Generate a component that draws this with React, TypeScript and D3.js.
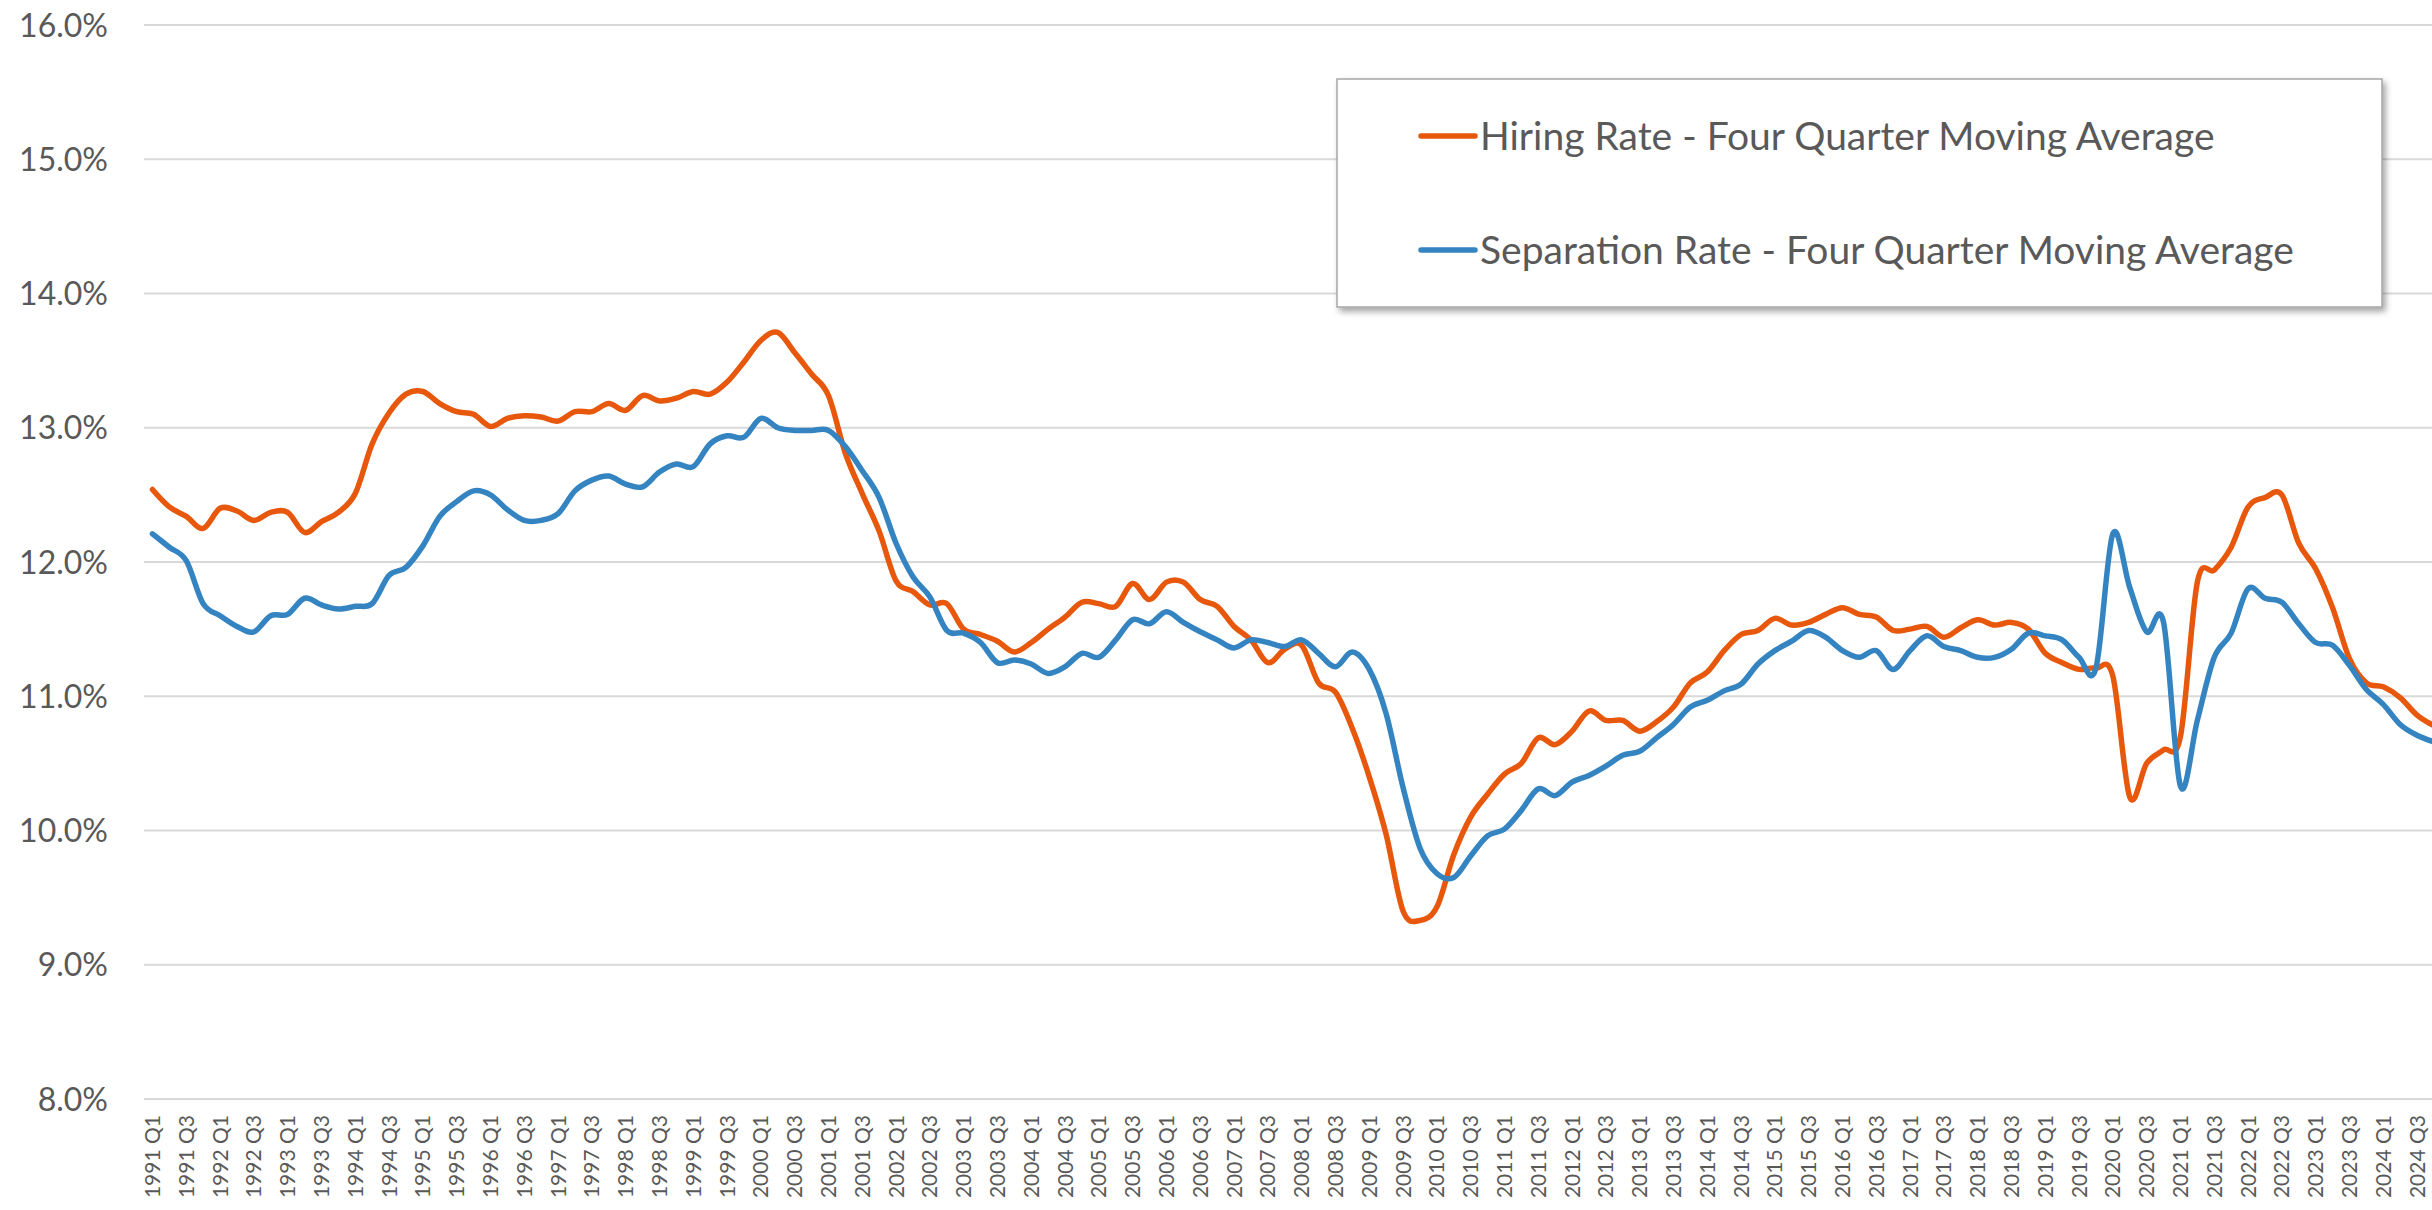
import React from "react";
import * as d3 from "d3";

const years = d3.range(1991, 2025);
const quarters = ["Q1", "Q2", "Q3", "Q4"];
const categories: string[] = years.flatMap((y) => quarters.map((q) => `${y} ${q}`));

const hiringRate = [
  12.54, 12.41, 12.34, 12.25, 12.40, 12.38, 12.31, 12.37, 12.37, 12.22,
  12.30, 12.37, 12.51, 12.88, 13.11, 13.25, 13.27, 13.18, 13.12, 13.10,
  13.01, 13.07, 13.09, 13.08, 13.05, 13.12, 13.12, 13.18, 13.13, 13.24,
  13.20, 13.22, 13.27, 13.25, 13.34, 13.49, 13.65, 13.71, 13.56, 13.40,
  13.24, 12.81, 12.51, 12.23, 11.86, 11.78, 11.68, 11.69, 11.50, 11.46,
  11.41, 11.33, 11.40, 11.50, 11.59, 11.70, 11.69, 11.67, 11.84, 11.72,
  11.85, 11.85, 11.72, 11.67, 11.52, 11.42, 11.25, 11.35, 11.38, 11.10,
  11.03, 10.76, 10.40, 9.97, 9.40, 9.33, 9.43, 9.82, 10.10, 10.27,
  10.42, 10.50, 10.69, 10.64, 10.74, 10.89, 10.82, 10.82, 10.74, 10.81,
  10.92, 11.10, 11.18, 11.34, 11.46, 11.49, 11.58, 11.53, 11.55, 11.61,
  11.66, 11.61, 11.59, 11.49, 11.50, 11.52, 11.44, 11.51, 11.57, 11.53,
  11.55, 11.50, 11.32, 11.25, 11.20, 11.21, 11.15, 10.25, 10.50, 10.60,
  10.70, 11.85, 11.94, 12.11, 12.41, 12.48, 12.50, 12.14, 11.95, 11.66,
  11.28, 11.10, 11.07, 10.99, 10.86, 10.78,
];

const separationRate = [
  12.21, 12.11, 12.01, 11.69, 11.60, 11.52, 11.48, 11.60, 11.61, 11.73,
  11.68, 11.65, 11.67, 11.69, 11.90, 11.96, 12.12, 12.34, 12.45, 12.53,
  12.50, 12.39, 12.31, 12.31, 12.36, 12.53, 12.61, 12.64, 12.58, 12.56,
  12.67, 12.73, 12.71, 12.88, 12.94, 12.93, 13.07, 13.00, 12.98, 12.98,
  12.98, 12.86, 12.68, 12.48, 12.14, 11.89, 11.74, 11.49, 11.47, 11.40,
  11.25, 11.27, 11.24, 11.17, 11.22, 11.32, 11.29, 11.42, 11.57, 11.54,
  11.63, 11.55, 11.48, 11.42, 11.36, 11.42, 11.40, 11.37, 11.42, 11.32,
  11.22, 11.33, 11.20, 10.87, 10.32, 9.87, 9.68, 9.65, 9.81, 9.96,
  10.01, 10.15, 10.31, 10.26, 10.36, 10.41, 10.48, 10.56, 10.59, 10.69,
  10.79, 10.92, 10.97, 11.04, 11.09, 11.24, 11.34, 11.41, 11.49, 11.44,
  11.34, 11.29, 11.34, 11.20, 11.34, 11.45, 11.37, 11.34, 11.29, 11.29,
  11.35, 11.47, 11.45, 11.42, 11.29, 11.21, 12.21, 11.81, 11.48, 11.55,
  10.33, 10.82, 11.29, 11.47, 11.80, 11.73, 11.70, 11.54, 11.40, 11.38,
  11.23, 11.05, 10.94, 10.79, 10.71, 10.66,
];

const yTicks = [8, 9, 10, 11, 12, 13, 14, 15, 16];
const seriesNames = [
  "Hiring Rate - Four Quarter Moving Average",
  "Separation Rate - Four Quarter Moving Average",
];
const seriesColors = ["#E8580C", "#3584C2"];

const W = 2432;
const H = 1210;
const plotLeft = 144;
const step = 16.9;
const plotRight = plotLeft + categories.length * step;
const plotTop = 25;
const plotBottom = 1099;
const FONT = "Lato, 'Open Sans', sans-serif";
const TEXT = "#595959";

export default function App() {
  const x = d3.scalePoint<string>().domain(categories).range([plotLeft, plotRight]).padding(0.5);
  const y = d3.scaleLinear().domain([8, 16]).range([plotBottom, plotTop]);
  const line = d3
    .line<number>()
    .x((_, i) => x(categories[i]) as number)
    .y((d) => y(d))
    .curve(d3.curveCardinal.tension(0));

  const series = [hiringRate, separationRate];
  const labelCats = categories.filter((c) => c.endsWith("Q1") || c.endsWith("Q3"));

  return (
    <svg
      width={W}
      height={H}
      style={{ position: "absolute", left: 0, top: 0, background: "#fff", overflow: "hidden" }}
    >
      <defs>
        <filter id="shadow" x="-5%" y="-5%" width="115%" height="125%">
          <feDropShadow dx="3" dy="4" stdDeviation="3" floodColor="#000" floodOpacity="0.35" />
        </filter>
        <clipPath id="clip">
          <rect x={0} y={0} width={W} height={H} />
        </clipPath>
      </defs>
      <rect x={0} y={0} width={W} height={H} fill="#fff" />
      {yTicks.map((t) => (
        <g key={t}>
          <line x1={plotLeft} x2={W} y1={y(t)} y2={y(t)} stroke="#d9d9d9" strokeWidth={2} />
          <text
            x={108}
            y={y(t)}
            dy="0.36em"
            textAnchor="end"
            fontFamily={FONT}
            fontSize={32}
            fill={TEXT}
          >
            {t.toFixed(1)}%
          </text>
        </g>
      ))}
      {labelCats.map((c) => (
        <text
          key={c}
          transform={`translate(${x(c)},${1115}) rotate(-90)`}
          dy="0.36em"
          textAnchor="end"
          fontFamily={FONT}
          fontSize={21}
          fill={TEXT}
        >
          {c}
        </text>
      ))}
      <g clipPath="url(#clip)">
        {series.map((s, k) => (
          <path
            key={k}
            d={line(s) || ""}
            fill="none"
            stroke={seriesColors[k]}
            strokeWidth={5.5}
            strokeLinejoin="round"
            strokeLinecap="round"
          />
        ))}
      </g>
      <g>
        <rect
          x={1337}
          y={79}
          width={1045}
          height={228}
          fill="#fff"
          stroke="#a6a6a6"
          strokeWidth={1.5}
          filter="url(#shadow)"
        />
        {seriesNames.map((n, k) => {
          const ly = k === 0 ? 136 : 250;
          return (
            <g key={n}>
              <line x1={1421} x2={1475} y1={ly} y2={ly} stroke={seriesColors[k]} strokeWidth={5.5} strokeLinecap="round" />
              <text x={1480} y={ly} dy="0.36em" fontFamily={FONT} fontSize={39} fill={TEXT}>
                {n}
              </text>
            </g>
          );
        })}
      </g>
    </svg>
  );
}
